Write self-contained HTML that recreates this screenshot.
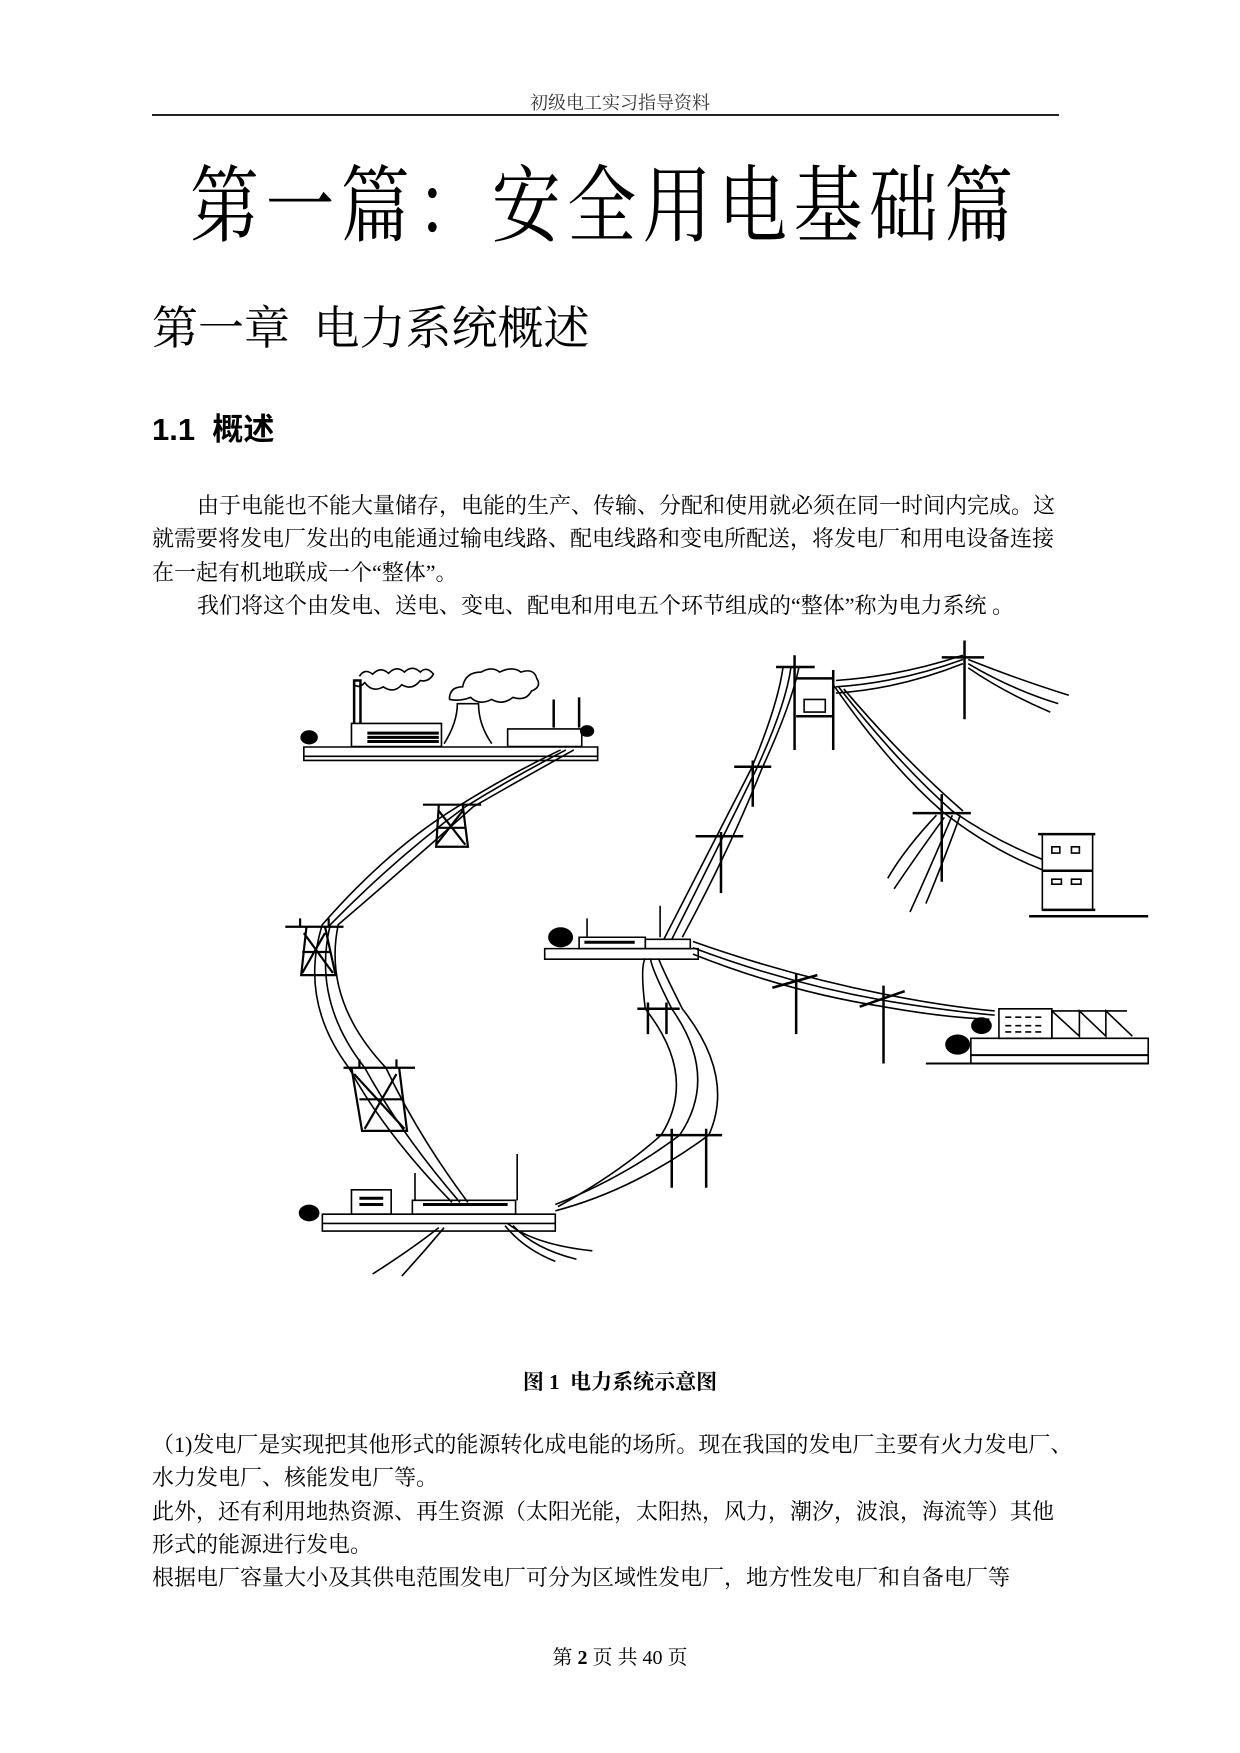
<!DOCTYPE html>
<html><head><meta charset="utf-8"><style>
html,body{margin:0;padding:0;background:#fff}
body{width:1240px;height:1753px;position:relative;overflow:hidden;color:#000;font-family:"Liberation Serif","Noto Serif CJK SC","Noto Sans CJK SC",serif}
.a{position:absolute;white-space:nowrap}
.p{font-size:22px;line-height:22px}
</style></head><body>
<div class="a" style="left:0;width:1240px;text-align:center;top:89px;font-size:18px;color:#333">初级电工实习指导资料</div>
<div class="a" style="left:152px;top:114px;width:907px;height:2px;background:#222"></div>
<div class="a" style="left:190px;top:155px;font-size:84px;letter-spacing:8px;line-height:90px;font-family:'Noto Serif CJK SC',serif;transform:scaleX(0.82);transform-origin:0 0">第一篇：安全用电基础篇</div>
<div class="a" style="left:152px;top:298px;font-size:46px;line-height:54px;font-family:'Noto Serif CJK SC',serif">第一章&nbsp;&nbsp;电力系统概述</div>
<div class="a" style="left:152px;top:413px;font-size:31px;line-height:34px;font-weight:bold;font-family:'Liberation Sans','Noto Sans CJK SC',sans-serif">1.1&nbsp; 概述</div>
<div class="a p" style="left:197px;top:495px">由于电能也不能大量储存，电能的生产、传输、分配和使用就必须在同一时间内完成。这</div>
<div class="a p" style="left:152px;top:528px">就需要将发电厂发出的电能通过输电线路、配电线路和变电所配送，将发电厂和用电设备连接</div>
<div class="a p" style="left:152px;top:562px">在一起有机地联成一个“整体”。</div>
<div class="a p" style="left:197px;top:595px">我们将这个由发电、送电、变电、配电和用电五个环节组成的“整体”称为电力系统 。</div>

<svg class="a" style="left:280px;top:630px" width="870" height="660" viewBox="0 0 870 660">
<g transform="scale(0.5294,0.4209)" fill="none" stroke="#000" stroke-width="1.6">
<rect x="45" y="278" width="555" height="32" vector-effect="non-scaling-stroke"/>
<line x1="45" y1="300" x2="600" y2="300" vector-effect="non-scaling-stroke"/>
<rect x="135" y="222" width="170" height="55" vector-effect="non-scaling-stroke"/>
<path d="M165 245H300M165 255H300M165 265H300" vector-effect="non-scaling-stroke" stroke-width="3"/>
<path d="M310 270 Q335 220 335 175 H375 Q375 225 400 270" vector-effect="non-scaling-stroke"/>
<rect x="430" y="235" width="140" height="42" vector-effect="non-scaling-stroke"/>
<path d="M140 222V120H152V222M517 232V165M565 232V160" vector-effect="non-scaling-stroke" stroke-width="2.5"/>
<path d="M150 110 q10-20 25-5 q15-20 30-2 q15-20 30-3 q15-18 30 0 q12-15 25 5 q-10 20-25 15 q-15 25-35 10 q-15 22-35 5 q-20 15-35-10 q-10 15-20 5" vector-effect="non-scaling-stroke"/>
<path d="M320 165 q0-30 25-30 q5-35 35-35 q20-15 35 0 q25-15 40 0 q25-10 30 15 q10 20-10 30 q-10 25-35 15 q-20 20-40 5 q-25 15-40-5 q-20 10-40 5" vector-effect="non-scaling-stroke"/>
<circle cx="55" cy="255" r="15" fill="#000" vector-effect="non-scaling-stroke"/>
<circle cx="580" cy="240" r="12" fill="#000" vector-effect="non-scaling-stroke"/>
<path d="M540 285 Q440 350 350 420 Q220 540 95 700 Q60 880 160 1040 Q230 1200 340 1360" vector-effect="non-scaling-stroke"/>
<path d="M555 285 Q455 355 365 420 Q240 560 110 700 Q80 880 200 1040 Q260 1200 355 1360" vector-effect="non-scaling-stroke"/>
<path d="M530 285 Q430 345 335 420 Q205 520 80 700 Q35 880 130 1040 Q200 1200 325 1360" vector-effect="non-scaling-stroke"/>
<path d="M270 415H380M300 415L295 515H355L345 415M300 430L350 510M345 430L295 510M298 470H350" vector-effect="non-scaling-stroke" stroke-width="2.2"/>
<path d="M10 705H120M50 705L40 820H105L85 705M45 720L100 815M85 720L42 815M42 765H95M38 685V705M92 685V705" vector-effect="non-scaling-stroke" stroke-width="2.2"/>
<path d="M120 1040H255M135 1040L155 1190H240L225 1040M140 1055L235 1185M220 1055L160 1185M150 1115H230M150 1020V1040M220 1020V1040" vector-effect="non-scaling-stroke" stroke-width="2.2"/>
<rect x="80" y="1388" width="440" height="40" vector-effect="non-scaling-stroke"/>
<line x1="80" y1="1410" x2="520" y2="1410" vector-effect="non-scaling-stroke"/>
<rect x="135" y="1330" width="75" height="58" vector-effect="non-scaling-stroke"/>
<path d="M150 1350H195M150 1365H195" vector-effect="non-scaling-stroke" stroke-width="3"/>
<rect x="250" y="1355" width="195" height="33" vector-effect="non-scaling-stroke"/>
<path d="M270 1365H430" vector-effect="non-scaling-stroke" stroke-width="3"/>
<path d="M255 1355V1290M448 1355V1245" vector-effect="non-scaling-stroke"/>
<circle cx="55" cy="1385" r="18" fill="#000" vector-effect="non-scaling-stroke"/>
<path d="M300 1420Q250 1470 175 1530M310 1420Q270 1480 230 1535M430 1410Q480 1460 590 1475M440 1415Q480 1470 560 1495M425 1415Q460 1470 520 1500" vector-effect="non-scaling-stroke"/>
<path d="M520 1365Q650 1300 755 1200Q830 1060 740 900Q700 800 700 780" vector-effect="non-scaling-stroke"/>
<path d="M520 1380Q670 1330 810 1200Q860 1060 760 900Q720 800 715 780" vector-effect="non-scaling-stroke"/>
<path d="M525 1370Q640 1290 720 1200Q790 1060 690 900Q680 800 690 780" vector-effect="non-scaling-stroke"/>
<path d="M710 1200H835M740 1185V1325M805 1185V1325M675 900H755M695 885V960M730 885V960" vector-effect="non-scaling-stroke" stroke-width="2.5"/>
<rect x="500" y="757" width="290" height="25" vector-effect="non-scaling-stroke"/>
<rect x="565" y="730" width="125" height="27" vector-effect="non-scaling-stroke"/>
<path d="M575 742H670" vector-effect="non-scaling-stroke" stroke-width="3"/>
<rect x="690" y="735" width="85" height="22" vector-effect="non-scaling-stroke"/>
<path d="M580 730V685M718 730V655" vector-effect="non-scaling-stroke"/>
<circle cx="530" cy="730" r="22" fill="#000" vector-effect="non-scaling-stroke"/>
<path d="M725 735Q820 500 890 330Q940 180 950 90" vector-effect="non-scaling-stroke"/>
<path d="M740 735Q830 510 900 330Q955 180 965 90" vector-effect="non-scaling-stroke"/>
<path d="M760 730Q850 520 910 330Q965 180 980 90" vector-effect="non-scaling-stroke"/>
<path d="M785 490H875M833 480V625M858 325H928M893 310V420" vector-effect="non-scaling-stroke" stroke-width="2.5"/>
<path d="M937 88H1010M972 60V285M1045 95V285M975 115H1045M975 205H1045" vector-effect="non-scaling-stroke" stroke-width="2.5"/>
<rect x="990" y="165" width="40" height="30" vector-effect="non-scaling-stroke"/>
<path d="M1050 120Q1170 110 1290 60M1050 135Q1170 125 1290 70M1050 150Q1170 140 1290 80" vector-effect="non-scaling-stroke"/>
<path d="M1250 65H1330M1293 25V212" vector-effect="non-scaling-stroke" stroke-width="2.5"/>
<path d="M1300 70Q1400 120 1490 155M1300 80Q1380 140 1470 175M1300 90Q1370 150 1455 195" vector-effect="non-scaling-stroke"/>
<path d="M1045 130Q1150 320 1250 430Q1340 520 1440 570M1055 135Q1170 320 1270 430Q1350 500 1440 545M1065 140Q1180 310 1290 430" vector-effect="non-scaling-stroke"/>
<path d="M1195 435H1305M1250 390V598" vector-effect="non-scaling-stroke" stroke-width="2.5"/>
<path d="M1240 440Q1180 520 1148 590M1255 445Q1200 540 1160 615M1270 440Q1230 560 1190 670M1285 440Q1250 560 1220 650" vector-effect="non-scaling-stroke"/>
<rect x="1440" y="485" width="95" height="180" vector-effect="non-scaling-stroke"/>
<path d="M1432 485H1540M1440 572H1535M1415 680H1640M1440 665H1540" vector-effect="non-scaling-stroke" stroke-width="2.5"/>
<rect x="1458" y="515" width="15" height="15" vector-effect="non-scaling-stroke"/><rect x="1495" y="515" width="15" height="15" vector-effect="non-scaling-stroke"/>
<rect x="1458" y="592" width="18" height="12" vector-effect="non-scaling-stroke"/><rect x="1495" y="592" width="18" height="12" vector-effect="non-scaling-stroke"/>
<path d="M780 740Q960 820 1140 865Q1260 895 1350 905M780 755Q960 840 1140 880Q1260 905 1350 915M780 770Q960 860 1140 895Q1250 920 1340 925" vector-effect="non-scaling-stroke"/>
<path d="M930 850L1015 820M975 815V960M1095 895L1180 858M1140 845V1030" vector-effect="non-scaling-stroke" stroke-width="2.5"/>
<rect x="1358" y="900" width="100" height="70" vector-effect="non-scaling-stroke"/>
<path d="M1370 920H1445M1370 940H1445M1370 955H1445" vector-effect="non-scaling-stroke" stroke-dasharray="6 4"/>
<path d="M1458 905H1600M1458 970L1458 905L1510 965V905L1560 965V905L1610 965" vector-effect="non-scaling-stroke"/>
<rect x="1305" y="970" width="335" height="60" vector-effect="non-scaling-stroke"/>
<path d="M1220 1030H1640M1305 1010H1640" vector-effect="non-scaling-stroke" stroke-width="2"/>
<circle cx="1280" cy="985" r="22" fill="#000" vector-effect="non-scaling-stroke"/>
<circle cx="1325" cy="940" r="18" fill="#000" vector-effect="non-scaling-stroke"/>
</g></svg>

<div class="a" style="left:0;width:1240px;text-align:center;top:1366px;font-size:21px;font-weight:bold">图 1&nbsp; 电力系统示意图</div>
<div class="a p" style="left:152px;top:1434px">（1)发电厂是实现把其他形式的能源转化成电能的场所。现在我国的发电厂主要有火力发电厂、</div>
<div class="a p" style="left:152px;top:1467px">水力发电厂、核能发电厂等。</div>
<div class="a p" style="left:152px;top:1501px">此外，还有利用地热资源、再生资源（太阳光能，太阳热，风力，潮汐，波浪，海流等）其他</div>
<div class="a p" style="left:152px;top:1534px">形式的能源进行发电。</div>
<div class="a p" style="left:152px;top:1567px">根据电厂容量大小及其供电范围发电厂可分为区域性发电厂，地方性发电厂和自备电厂等</div>
<div class="a" style="left:0;width:1240px;text-align:center;top:1641px;font-size:20px">第 <b>2</b> 页 共 40 页</div>
</body></html>
